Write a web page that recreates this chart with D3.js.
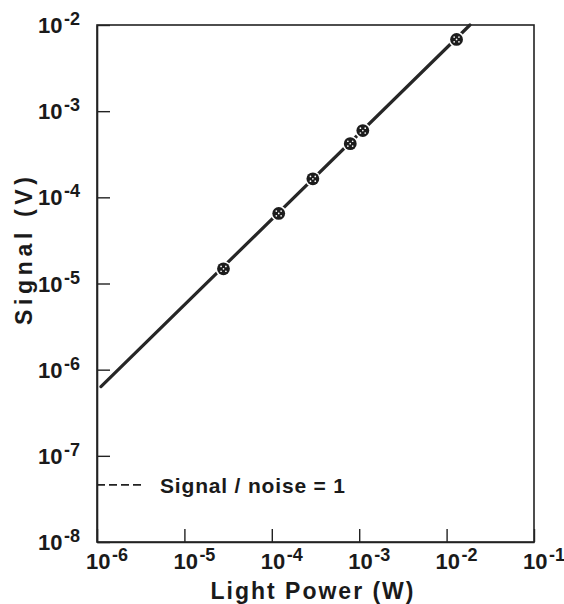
<!DOCTYPE html>
<html>
<head>
<meta charset="utf-8">
<script src="https://cdn.jsdelivr.net/npm/d3@7"></script>
<style>
  html, body { margin: 0; padding: 0; background: #fff; }
  svg { display: block; }
  text { font-family: "Liberation Sans", Arial, sans-serif; font-weight: bold; fill: #1a1a1a; }
</style>
</head>
<body>
<svg id="chart" width="564" height="604"></svg>
<script>
// ---- data ----
const xTickValues = [1e-6, 1e-5, 1e-4, 1e-3, 1e-2, 1e-1];
const xTickExponents = ["-6", "-5", "-4", "-3", "-2", "-1"];
const yTickValues = [1e-8, 1e-7, 1e-6, 1e-5, 1e-4, 1e-3, 1e-2];
const yTickExponents = ["-8", "-7", "-6", "-5", "-4", "-3", "-2"];

const lightPowerW = [2.8e-5, 1.2e-4, 2.95e-4, 7.9e-4, 1.1e-3, 1.3e-2];
const signalV     = [1.48e-5, 6.5e-5, 1.64e-4, 4.2e-4, 5.95e-4, 6.8e-3];

const fitPowerW = [1.11e-6, 1.85e-2];
const fitSignalV = [6.35e-7, 1.0e-2];

const noiseLevelV = 4.6e-8;
const noiseLinePowerW = [1e-6, 3.5e-6];
const noiseLabel = "Signal / noise = 1";

const xTitle = "Light Power (W)";
const yTitle = "Signal (V)";

// ---- layout ----
const svg = d3.select("#chart");
const mLeft = 97, mRight = 534, mTop = 25, mBottom = 542;

const x = d3.scaleLog().domain([1e-6, 1e-1]).range([mLeft, mRight]);
const y = d3.scaleLog().domain([1e-8, 1e-2]).range([mBottom, mTop]);

// frame
svg.append("rect")
  .attr("x", mLeft).attr("y", mTop)
  .attr("width", mRight - mLeft).attr("height", mBottom - mTop)
  .attr("fill", "none").attr("stroke", "#222").attr("stroke-width", 1.6);

// axes with inward ticks
const xAxis = d3.axisBottom(x).tickValues(xTickValues).tickSizeInner(-13).tickSizeOuter(0).tickFormat(() => "");
const yAxis = d3.axisLeft(y).tickValues(yTickValues).tickSizeInner(-13).tickSizeOuter(0).tickFormat(() => "");

const gx = svg.append("g").attr("transform", `translate(0,${mBottom})`).call(xAxis);
const gy = svg.append("g").attr("transform", `translate(${mLeft},0)`).call(yAxis);
[gx, gy].forEach(g => {
  g.select(".domain").attr("stroke", "#222").attr("stroke-width", 1.6);
  g.selectAll(".tick line").attr("stroke", "#222").attr("stroke-width", 1.4);
  g.selectAll(".tick text").remove();
});

// tick labels: 10 with superscript exponent
function powerLabel(g, px, py, exp) {
  const t = g.append("text").attr("x", px).attr("y", py);
  t.append("tspan").attr("font-size", 22).text("10");
  t.append("tspan").attr("font-size", 18).attr("dx", 1.5).attr("dy", -8).text(exp);
}
const labels = svg.append("g");
xTickValues.forEach((v, i) => {
  powerLabel(labels, x(v) - 11, mBottom + 27, xTickExponents[i]);
});
yTickValues.forEach((v, i) => {
  powerLabel(labels, mLeft - 59, y(v) + 8, yTickExponents[i]);
});

// fit line
svg.append("path")
  .datum(fitPowerW.map((p, i) => [p, fitSignalV[i]]))
  .attr("d", d3.line().x(d => x(d[0])).y(d => y(d[1])))
  .attr("fill", "none").attr("stroke", "#262626").attr("stroke-width", 3.2)
  .attr("stroke-linecap", "round");

// markers
const pts = lightPowerW.map((p, i) => ({ p, s: signalV[i] }));
const mk = svg.append("g").selectAll("g").data(pts).join("g")
  .attr("transform", d => `translate(${x(d.p)},${y(d.s)})`);
mk.append("circle").attr("r", 6.6).attr("fill", "#1c1c1c")
  .attr("stroke", "#fff").attr("stroke-width", 2.6);
mk.append("circle").attr("r", 6.4).attr("fill", "#1c1c1c");
const speck = [[-2.4, -2.4], [2.4, -2.4], [-2.4, 2.4], [2.4, 2.4], [0, 0]];
mk.selectAll("circle.speck").data(speck).join("circle")
  .attr("class", "speck")
  .attr("cx", d => d[0]).attr("cy", d => d[1]).attr("r", 0.85).attr("fill", "#fff");

// signal / noise = 1 reference
svg.append("line")
  .attr("x1", x(noiseLinePowerW[0])).attr("x2", x(noiseLinePowerW[1]))
  .attr("y1", y(noiseLevelV)).attr("y2", y(noiseLevelV))
  .attr("stroke", "#222").attr("stroke-width", 1.8).attr("stroke-dasharray", "8,4");
svg.append("text")
  .attr("x", 160).attr("y", y(noiseLevelV) + 8)
  .attr("font-size", 21)
  .attr("textLength", 185).attr("lengthAdjust", "spacing")
  .text(noiseLabel);

// axis titles
svg.append("text")
  .attr("x", 312).attr("y", 599)
  .attr("text-anchor", "middle")
  .attr("font-size", 23)
  .attr("textLength", 203).attr("lengthAdjust", "spacing")
  .text(xTitle);
svg.append("text")
  .attr("transform", `translate(32,251) rotate(-90)`)
  .attr("text-anchor", "middle")
  .attr("font-size", 23)
  .attr("textLength", 148).attr("lengthAdjust", "spacing")
  .text(yTitle);
</script>
</body>
</html>
